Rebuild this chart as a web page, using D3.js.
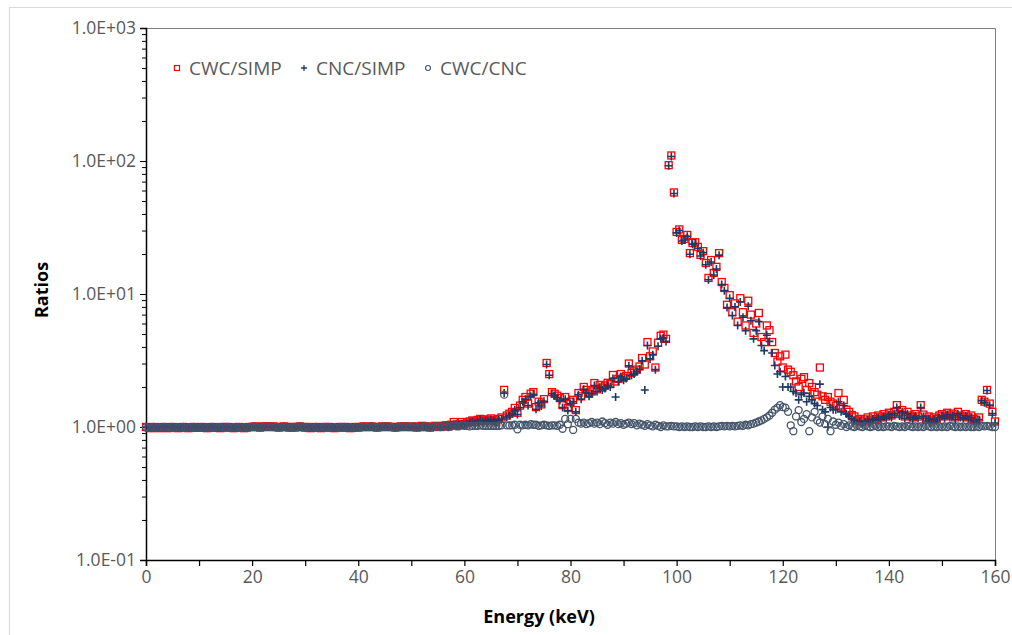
<!DOCTYPE html>
<html>
<head>
<meta charset="utf-8">
<script src="https://cdn.jsdelivr.net/npm/d3@7"></script>
<style>
    body { margin: 0; background: #fff; }
    .axis path, .axis line { stroke: #000; }
    .axis text { font-family: "Open Sans", sans-serif; font-size: 17.5px; fill: #595959; }
    .axis-title { font-family: "Open Sans", sans-serif; font-size: 18px; font-weight: bold; fill: #000; }
    .legend text { font-family: "Open Sans", sans-serif; font-size: 19px; fill: #595959; }
</style>
</head>
<body>
<div id="chart-area"></div>
<script>

// energy channels start at 0 keV, one every 0.5 keV
var energyStep = 0.5;

// CWC/SIMP ratio (one row = 10 keV)
var cwcSimp = [
    1.00, 0.99, 0.98, 1.00, 0.99, 0.98, 0.99, 1.00, 0.98, 0.99, 1.00, 0.99, 0.98, 0.99, 1.00, 0.99, 0.98, 0.99, 1.00, 0.99,
    0.99, 1.00, 0.99, 0.98, 0.99, 1.00, 0.99, 0.99, 0.98, 1.00, 0.99, 1.00, 0.99, 0.98, 0.99, 1.00, 0.99, 0.98, 0.99, 1.00,
    1.00, 1.01, 1.00, 0.99, 1.01, 1.00, 1.01, 1.00, 1.01, 1.00, 0.99, 1.00, 1.01, 1.00, 0.99, 1.00, 0.99, 1.00, 1.01, 1.00,
    0.99, 1.00, 0.98, 0.99, 1.00, 0.99, 0.98, 1.00, 0.99, 1.00, 0.99, 0.98, 0.99, 1.00, 0.99, 1.00, 0.99, 0.98, 0.99, 1.00,
    0.99, 1.00, 1.01, 1.00, 1.00, 1.01, 1.00, 0.99, 1.00, 1.01, 1.00, 1.01, 1.00, 1.00, 0.99, 1.00, 1.01, 1.00, 1.01, 1.00,
    1.00, 1.01, 0.99, 1.00, 1.02, 1.00, 1.01, 0.99, 1.00, 1.02, 1.01, 1.00, 1.02, 1.03, 1.01, 1.04, 1.09, 1.03, 1.05, 1.09,
    1.05, 1.08, 1.10, 1.12, 1.09, 1.13, 1.15, 1.11, 1.14, 1.12, 1.16, 1.13, 1.10, 1.15, 1.18, 1.90, 1.22, 1.26, 1.30, 1.39,
    1.28, 1.45, 1.60, 1.68, 1.50, 1.78, 1.83, 1.41, 1.55, 1.48, 1.62, 3.03, 2.50, 1.83, 1.78, 1.72, 1.65, 1.46, 1.68, 1.39,
    1.55, 1.60, 1.34, 1.80, 1.70, 2.00, 1.90, 1.78, 1.85, 2.14, 1.92, 2.07, 1.98, 2.05, 2.15, 2.10, 2.46, 2.20, 2.30, 2.50,
    2.35, 2.42, 3.00, 2.55, 2.62, 2.70, 2.85, 3.30, 2.95, 4.35, 3.40, 3.70, 2.80, 4.30, 4.85, 4.95, 4.60, 93.0, 110.0, 58.0,
    29.3, 30.6, 25.5, 26.0, 27.8, 20.3, 24.2, 24.5, 22.6, 19.7, 21.0, 17.1, 13.2, 18.0, 14.4, 16.0, 20.3, 12.3, 11.1, 8.3,
    9.8, 7.3, 8.5, 6.2, 9.3, 7.3, 5.8, 8.9, 7.0, 5.1, 6.0, 7.2, 4.75, 4.35, 5.8, 5.35, 4.35, 3.6, 3.1, 3.4,
    2.8, 3.5, 2.7, 2.6, 2.45, 2.2, 2.0, 2.3, 2.37, 1.9, 2.14, 2.0, 1.83, 1.75, 2.8, 1.7, 1.6, 1.68, 1.55, 1.5,
    1.45, 1.8, 1.4, 1.6, 1.35, 1.3, 1.23, 1.2, 1.12, 1.15, 1.1, 1.14, 1.18, 1.12, 1.2, 1.15, 1.22, 1.18, 1.25, 1.2,
    1.28, 1.22, 1.3, 1.46, 1.25, 1.34, 1.2, 1.3, 1.22, 1.18, 1.25, 1.2, 1.46, 1.24, 1.15, 1.2, 1.12, 1.18, 1.15, 1.22,
    1.25, 1.2, 1.28, 1.22, 1.26, 1.18, 1.3, 1.22, 1.2, 1.25, 1.18, 1.22, 1.15, 1.12, 1.18, 1.6, 1.55, 1.9, 1.5, 1.3, 1.1
];

// CNC/SIMP ratio
var cncSimp = [
    1.00, 1.00, 0.99, 1.00, 1.00, 0.99, 1.00, 1.00, 0.99, 1.00, 1.00, 1.00, 0.99, 1.00, 1.00, 1.00, 0.99, 1.00, 1.00, 1.00,
    1.00, 1.00, 1.00, 0.99, 1.00, 1.00, 1.00, 0.99, 0.99, 1.00, 1.00, 1.00, 1.00, 0.99, 1.00, 1.00, 1.00, 0.99, 1.00, 1.00,
    1.00, 1.01, 1.00, 1.00, 1.01, 1.00, 1.00, 1.00, 1.01, 1.00, 1.00, 1.00, 1.01, 1.00, 1.00, 1.00, 0.99, 1.00, 1.00, 1.00,
    1.00, 1.00, 0.99, 1.00, 1.00, 1.00, 0.99, 1.00, 1.00, 1.00, 1.00, 0.99, 1.00, 1.00, 1.00, 1.00, 1.00, 0.99, 1.00, 1.00,
    1.00, 1.00, 1.01, 1.00, 1.00, 1.00, 1.00, 1.00, 1.00, 1.01, 1.00, 1.00, 1.00, 1.00, 1.00, 1.00, 1.01, 1.00, 1.00, 1.00,
    1.00, 1.00, 0.99, 1.00, 1.01, 1.00, 1.00, 0.99, 1.00, 1.01, 1.00, 1.00, 1.01, 1.02, 1.01, 1.03, 1.05, 1.02, 1.04, 1.06,
    1.03, 1.06, 1.08, 1.10, 1.07, 1.11, 1.12, 1.09, 1.12, 1.10, 1.14, 1.11, 1.08, 1.13, 1.15, 1.80, 1.19, 1.22, 1.26, 1.34,
    1.24, 1.40, 1.55, 1.62, 1.45, 1.70, 1.76, 1.36, 1.52, 1.44, 1.56, 2.95, 2.45, 1.78, 1.72, 1.66, 1.58, 1.40, 1.62, 1.33,
    1.50, 1.55, 1.30, 1.75, 1.62, 1.92, 1.82, 1.70, 1.78, 2.05, 1.85, 1.98, 1.90, 1.95, 2.05, 2.00, 2.32, 1.68, 2.20, 2.40,
    2.25, 2.32, 2.88, 2.45, 2.50, 2.60, 2.72, 3.15, 1.90, 4.10, 3.25, 3.50, 2.70, 4.05, 4.60, 4.70, 4.40, 92.0, 108.0, 57.0,
    28.8, 30.0, 25.0, 25.5, 27.2, 19.9, 23.7, 24.0, 22.1, 19.3, 20.4, 16.6, 12.8, 17.4, 13.9, 15.4, 19.6, 11.8, 10.6, 7.9,
    9.3, 6.9, 8.0, 5.8, 8.7, 6.7, 5.3, 8.1, 6.3, 4.6, 5.3, 6.2, 4.1, 3.75, 4.9, 4.4, 3.6, 2.9, 2.5, 2.6,
    2.0, 2.4, 2.0, 2.0, 1.85, 1.8, 1.6, 1.75, 1.8, 1.55, 1.7, 1.6, 1.5, 1.45, 2.1, 1.35, 1.3, 1.0, 1.4, 1.35,
    1.35, 1.55, 1.3, 1.45, 1.25, 1.2, 1.15, 1.12, 1.08, 1.1, 1.06, 1.09, 1.13, 1.08, 1.15, 1.12, 1.18, 1.14, 1.2, 1.16,
    1.24, 1.18, 1.26, 1.4, 1.21, 1.3, 1.16, 1.26, 1.18, 1.14, 1.21, 1.16, 1.4, 1.2, 1.11, 1.16, 1.08, 1.14, 1.11, 1.18,
    1.21, 1.16, 1.24, 1.18, 1.22, 1.14, 1.26, 1.18, 1.16, 1.21, 1.14, 1.18, 1.11, 1.08, 1.14, 1.58, 1.52, 1.88, 1.46, 1.26, 1.07
];

// CWC/CNC ratio
var cwcCnc = [
    1.00, 0.99, 0.99, 1.00, 0.99, 0.99, 0.99, 1.00, 0.99, 0.99, 1.00, 0.99, 0.99, 0.99, 1.00, 0.99, 0.99, 0.99, 1.00, 0.99,
    0.99, 1.00, 0.99, 0.99, 0.99, 1.00, 0.99, 1.00, 0.99, 1.00, 0.99, 1.00, 0.99, 0.99, 0.99, 1.00, 0.99, 0.99, 0.99, 1.00,
    1.00, 1.00, 1.00, 0.99, 1.00, 1.00, 1.01, 1.00, 1.00, 1.00, 0.99, 1.00, 1.00, 1.00, 0.99, 1.00, 1.00, 1.00, 1.01, 1.00,
    0.99, 1.00, 0.99, 0.99, 1.00, 0.99, 0.99, 1.00, 0.99, 1.00, 0.99, 0.99, 0.99, 1.00, 0.99, 1.00, 0.99, 0.99, 0.99, 1.00,
    0.99, 1.00, 1.00, 1.00, 1.00, 1.01, 1.00, 0.99, 1.00, 1.00, 1.00, 1.01, 1.00, 1.00, 0.99, 1.00, 1.00, 1.00, 1.01, 1.00,
    1.00, 1.01, 1.00, 1.00, 1.01, 1.00, 1.01, 1.00, 1.00, 1.01, 1.01, 1.00, 1.01, 1.01, 1.00, 1.01, 1.04, 1.01, 1.01, 1.03,
    1.02, 1.02, 1.01, 1.02, 1.02, 1.02, 1.03, 1.02, 1.02, 1.02, 1.02, 1.02, 1.02, 1.02, 1.03, 1.75, 1.03, 1.03, 1.03, 1.04,
    0.96, 1.04, 1.03, 1.04, 1.03, 1.05, 1.04, 1.04, 1.02, 1.03, 1.04, 1.03, 1.02, 1.03, 1.03, 1.02, 1.04, 0.97, 1.15, 1.05,
    1.15, 0.95, 1.15, 1.08, 1.06, 1.08, 1.05, 1.07, 1.09, 1.06, 1.08, 1.05, 1.10, 1.07, 1.04, 1.08, 1.06, 1.09, 1.05, 1.07,
    1.04, 1.06, 1.08, 1.05, 1.07, 1.03, 1.06, 1.04, 1.02, 1.05, 1.03, 1.01, 1.04, 1.02, 1.00, 1.03, 1.01, 1.01, 1.02, 1.01,
    1.01, 1.00, 1.01, 1.00, 1.01, 1.00, 1.00, 1.01, 1.00, 1.01, 1.00, 1.00, 1.01, 1.00, 1.01, 1.00, 1.01, 1.02, 1.01, 1.02,
    1.01, 1.02, 1.01, 1.02, 1.03, 1.02, 1.04, 1.03, 1.05, 1.06, 1.08, 1.10, 1.12, 1.15, 1.18, 1.22, 1.28, 1.35, 1.40, 1.46,
    1.41, 1.40, 1.30, 1.03, 0.93, 1.20, 1.34, 1.09, 1.15, 1.25, 0.93, 1.18, 1.30, 1.12, 1.08, 1.20, 1.05, 1.15, 0.93, 1.10,
    1.04, 1.08, 1.02, 1.05, 1.00, 1.03, 1.01, 1.00, 1.02, 1.01, 1.00, 1.02, 1.01, 1.00, 1.01, 1.02, 1.00, 1.01, 1.00, 1.01,
    1.01, 1.00, 1.02, 1.01, 1.00, 1.01, 1.00, 1.02, 1.01, 1.00, 1.01, 1.00, 1.01, 1.00, 1.02, 1.01, 1.00, 1.01, 1.00, 1.01,
    1.00, 1.01, 1.00, 1.02, 1.01, 1.00, 1.01, 1.00, 1.01, 1.00, 1.01, 1.00, 1.00, 1.01, 1.00, 1.02, 1.01, 1.02, 1.01, 1.00, 1.00
];

var seriesNames = ["CWC/SIMP", "CNC/SIMP", "CWC/CNC"];
var xTickValues = [0, 20, 40, 60, 80, 100, 120, 140, 160];
var yTickValues = [0.1, 1, 10, 100, 1000];


RatioChart = function(_parentElement) {
    this.parentElement = _parentElement;
    this.initVis();
};

RatioChart.prototype.initVis = function() {
    var vis = this;

    vis.margin = { top: 28, right: 17, bottom: 75, left: 146 };
    vis.width = 1012 - vis.margin.left - vis.margin.right;
    vis.height = 635 - vis.margin.top - vis.margin.bottom;

    vis.root = d3.select("#" + vis.parentElement).append("svg")
        .attr("width", 1012)
        .attr("height", 635);

    // light chart-area border
    vis.root.append("rect")
        .attr("x", 9.5).attr("y", 7.5)
        .attr("width", 1010).attr("height", 640)
        .attr("fill", "none")
        .attr("stroke", "#d9d9d9");

    vis.svg = vis.root.append("g")
        .attr("transform", "translate(" + vis.margin.left + "," + vis.margin.top + ")");

    vis.x = d3.scaleLinear().domain([0, 160]).range([0, vis.width]);
    vis.y = d3.scaleLog().domain([0.1, 1000]).range([vis.height, 0]);

    // plot frame (top / right)
    vis.svg.append("path")
        .attr("d", "M0,0.5H" + (vis.width + 0.5) + "V" + vis.height)
        .attr("fill", "none")
        .attr("stroke", "#7f7f7f");

    vis.wrangleData();
};

RatioChart.prototype.wrangleData = function() {
    var vis = this;

    function toPoints(values) {
        return values.map(function(v, i) { return { energy: i * energyStep, ratio: v }; });
    }

    vis.displayData = [toPoints(cwcSimp), toPoints(cncSimp), toPoints(cwcCnc)];

    vis.updateVis();
};

RatioChart.prototype.updateVis = function() {
    var vis = this;

    var fmt = function(v) {
        var e = Math.round(Math.log10(v));
        return "1.0E" + (e < 0 ? "-" : "+") + String(Math.abs(e)).padStart(2, "0");
    };

    // x axis: ticks every 10, labels every 20
    vis.xAxis = d3.axisBottom(vis.x)
        .tickValues(d3.range(0, 161, 10))
        .tickSize(6)
        .tickPadding(5)
        .tickFormat(function(d) { return xTickValues.indexOf(d) >= 0 ? d : ""; });

    var gx = vis.svg.append("g")
        .attr("class", "x-axis axis")
        .attr("transform", "translate(0," + vis.height + ")")
        .call(vis.xAxis);
    gx.select(".domain").attr("stroke-width", 1.5);
    gx.selectAll(".tick line").attr("stroke-width", 1.2);

    // y axis: minor log ticks
    var minor = [];
    yTickValues.slice(0, -1).forEach(function(d) {
        for (var k = 2; k < 10; k++) minor.push(d * k);
    });
    vis.svg.append("g")
        .attr("class", "axis")
        .call(d3.axisLeft(vis.y).tickValues(minor).tickSize(4).tickFormat(""))
        .select(".domain").remove();

    vis.yAxis = d3.axisLeft(vis.y)
        .tickValues(yTickValues)
        .tickSize(6)
        .tickPadding(4)
        .tickFormat(fmt);

    var gy = vis.svg.append("g")
        .attr("class", "y-axis axis")
        .call(vis.yAxis);
    gy.select(".domain").attr("stroke-width", 1.5);

    // axis titles
    vis.root.append("text")
        .attr("class", "axis-title")
        .attr("x", 539).attr("y", 623)
        .attr("text-anchor", "middle")
        .text("Energy (keV)");

    vis.root.append("text")
        .attr("class", "axis-title")
        .attr("transform", "translate(48,290) rotate(-90)")
        .attr("text-anchor", "middle")
        .text("Ratios");

    var colors = ["#ff0000", "#1f3864", "#44546a"];

    // series 1: open squares
    vis.svg.append("g").selectAll("rect")
        .data(vis.displayData[0])
        .enter().append("rect")
        .attr("x", function(d) { return vis.x(d.energy) - 3.5; })
        .attr("y", function(d) { return vis.y(d.ratio) - 3.5; })
        .attr("width", 7).attr("height", 7)
        .attr("fill", "none")
        .attr("stroke", colors[0])
        .attr("stroke-width", 1.3);

    // series 2: plus signs
    vis.svg.append("g").selectAll("path")
        .data(vis.displayData[1])
        .enter().append("path")
        .attr("d", function(d) {
            var cx = vis.x(d.energy), cy = vis.y(d.ratio);
            return "M" + (cx - 4) + "," + cy + "H" + (cx + 4) + "M" + cx + "," + (cy - 4) + "V" + (cy + 4);
        })
        .attr("stroke", colors[1])
        .attr("stroke-width", 1.6);

    // series 3: open circles
    vis.svg.append("g").selectAll("circle")
        .data(vis.displayData[2])
        .enter().append("circle")
        .attr("cx", function(d) { return vis.x(d.energy); })
        .attr("cy", function(d) { return vis.y(d.ratio); })
        .attr("r", 3.5)
        .attr("fill", "none")
        .attr("stroke", colors[2])
        .attr("stroke-width", 1.3);

    // legend
    var legendX = [177, 304, 428];
    var legend = vis.root.append("g").attr("class", "legend");
    seriesNames.forEach(function(name, i) {
        var cx = legendX[i], cy = 68;
        if (i === 0) {
            legend.append("rect").attr("x", cx - 2.5).attr("y", cy - 2.5).attr("width", 5).attr("height", 5)
                .attr("fill", "none").attr("stroke", colors[0]).attr("stroke-width", 1.2);
        } else if (i === 1) {
            legend.append("path").attr("d", "M" + (cx - 3) + "," + cy + "H" + (cx + 3) + "M" + cx + "," + (cy - 3) + "V" + (cy + 3))
                .attr("stroke", colors[1]).attr("stroke-width", 1.3);
        } else {
            legend.append("circle").attr("cx", cx).attr("cy", cy).attr("r", 2.5)
                .attr("fill", "none").attr("stroke", colors[2]).attr("stroke-width", 1.1);
        }
        legend.append("text")
            .attr("x", cx + 12).attr("y", cy)
            .attr("dy", "0.35em")
            .text(name);
    });
};

var chart = new RatioChart("chart-area");

</script>
</body>
</html>
